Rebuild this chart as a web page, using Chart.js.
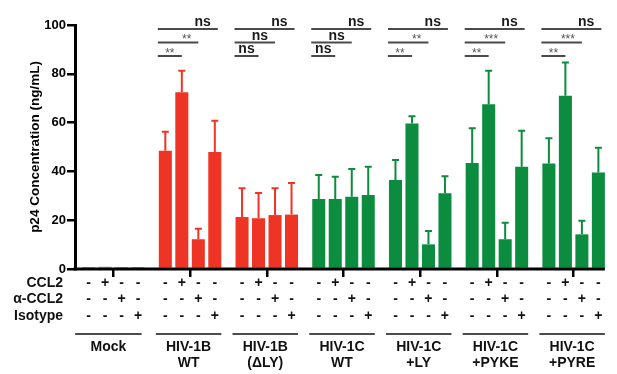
<!DOCTYPE html>
<html><head><meta charset="utf-8">
<script src="https://cdn.jsdelivr.net/npm/chart.js@4"></script>
<style>html,body{margin:0;padding:0;background:#fff}#c{display:block}</style>
</head><body>
<canvas id="c" width="617" height="374"></canvas>
<script>
// ---- data ----
const groupLabels = [['Mock'], ['HIV-1B', 'WT'], ['HIV-1B', '(\u0394LY)'], ['HIV-1C', 'WT'], ['HIV-1C', '+LY'], ['HIV-1C', '+PYKE'], ['HIV-1C', '+PYRE']];
const treatments = ['Untreated', 'CCL2', '\u03b1-CCL2', 'Isotype'];
const untreated = [0.8, 48.5, 21.3, 28.7, 36.5, 43.4, 43.2];
const ccl2 = [0.9, 72.4, 20.8, 28.7, 59.6, 67.5, 71.0];
const antiCcl2 = [0.8, 12.2, 22.1, 29.6, 10.1, 12.2, 14.2];
const isotype = [0.8, 48.0, 22.3, 30.3, 31.0, 41.9, 39.6];
const untreatedErr = [0, 7.8, 11.8, 9.8, 8.2, 14.3, 10.4];
const ccl2Err = [0, 8.9, 10.3, 9.1, 3.0, 13.8, 13.6];
const antiCcl2Err = [0, 4.3, 11.0, 11.4, 5.5, 6.8, 5.6];
const isotypeErr = [0, 12.8, 12.9, 11.6, 7.0, 14.8, 10.1];
const rowCcl2 = ['-', '+', '-', '-'];
const rowAntiCcl2 = ['-', '-', '+', '-'];
const rowIsotype = ['-', '-', '-', '+'];
const sigVsCcl2 = [null, '**', 'ns', 'ns', '**', '**', '**'];
const sigVsAnti = [null, '**', 'ns', 'ns', '**', '***', '***'];
const sigVsIso = [null, 'ns', 'ns', 'ns', 'ns', 'ns', 'ns'];
const yTicks = [0, 20, 40, 60, 80, 100];

// ---- styles ----
const RED = '#EE3424', GREEN = '#0B8C3E', GREY = '#8a8a8a';
const groupColors = [GREY, RED, RED, GREEN, GREEN, GREEN, GREEN];
const FONT = '"Liberation Sans", Arial, sans-serif';

const values = [untreated, ccl2, antiCcl2, isotype];
const errors = [untreatedErr, ccl2Err, antiCcl2Err, isotypeErr];

const annot = {
  id: 'annot',
  afterDatasetsDraw(chart) {
    const ctx = chart.ctx, y = chart.scales.y;
    ctx.save();
    for (let d = 0; d < 4; d++) {
      const meta = chart.getDatasetMeta(d);
      meta.data.forEach((bar, i) => {
        const e = errors[d][i];
        if (!e) return;
        const top = y.getPixelForValue(values[d][i] + e);
        ctx.strokeStyle = groupColors[i];
        ctx.lineWidth = 2;
        ctx.beginPath();
        ctx.moveTo(bar.x, bar.y);
        ctx.lineTo(bar.x, top);
        ctx.moveTo(bar.x - 3.5, top);
        ctx.lineTo(bar.x + 3.5, top);
        ctx.stroke();
      });
    }
    ctx.restore();
  },
  afterDraw(chart) {
    const ctx = chart.ctx, area = chart.chartArea;
    const metas = [0, 1, 2, 3].map(d => chart.getDatasetMeta(d));
    ctx.save();
    // x axis line
    const last = metas[3].data[metas[3].data.length - 1];
    ctx.strokeStyle = '#000';
    ctx.lineWidth = 3;
    ctx.beginPath();
    ctx.moveTo(area.left - 1.5, area.bottom);
    ctx.lineTo(last.x + last.width / 2, area.bottom);
    ctx.stroke();

    // significance brackets
    const levels = [56, 42.5, 29];
    const sigs = [sigVsCcl2, sigVsAnti, sigVsIso];
    for (let i = 0; i < groupLabels.length; i++) {
      const b0 = metas[0].data[i];
      const x0 = b0.x - b0.width / 2 - 1;
      for (let k = 0; k < 3; k++) {
        const lab = sigs[k][i];
        if (!lab) continue;
        const bk = metas[k + 1].data[i];
        const x1 = bk.x + (k === 2 ? 3 : 0);
        const ly = levels[k];
        ctx.strokeStyle = '#4a4a4a';
        ctx.lineWidth = 2;
        ctx.beginPath();
        ctx.moveTo(x0, ly);
        ctx.lineTo(x1, ly);
        ctx.stroke();
        const isNs = lab === 'ns';
        ctx.fillStyle = isNs ? '#1a1a1a' : '#555';
        ctx.font = isNs ? 'bold 14px ' + FONT : '12px ' + FONT;
        ctx.textBaseline = 'alphabetic';
        if (k === 0) {
          ctx.textAlign = 'center';
          ctx.fillText(lab, (x0 + x1) / 2, isNs ? ly - 3 : ly + 0.5);
        } else {
          ctx.textAlign = 'right';
          ctx.fillText(lab, x1 - 7, isNs ? ly - 3 : ly + 0.5);
        }
      }
    }

    // table
    const rows = [rowCcl2, rowAntiCcl2, rowIsotype];
    const rowNames = treatments.slice(1);
    const rowY = [283, 299.5, 316];
    ctx.fillStyle = '#111';
    ctx.textBaseline = 'middle';
    ctx.font = 'bold 14px ' + FONT;
    for (let r = 0; r < 3; r++) {
      ctx.textAlign = 'right';
      ctx.fillText(rowNames[r], 63, rowY[r]);
      ctx.textAlign = 'center';
      for (let i = 0; i < groupLabels.length; i++) {
        for (let d = 0; d < 4; d++) {
          ctx.fillText(rows[r][d], metas[d].data[i].x, rowY[r]);
        }
      }
    }
    // group underlines + labels
    for (let i = 0; i < groupLabels.length; i++) {
      const a = metas[0].data[i], b = metas[3].data[i];
      const l = a.x - a.width / 2 - (i === 0 ? 7 : 3), r = b.x + b.width / 2 - (i === 0 ? 3 : 0);
      ctx.strokeStyle = '#111';
      ctx.lineWidth = 1.5;
      ctx.beginPath();
      ctx.moveTo(l, 334);
      ctx.lineTo(r, 334);
      ctx.stroke();
      ctx.textAlign = 'center';
      groupLabels[i].forEach((t, j) => ctx.fillText(t, (l + r) / 2, 347.5 + j * 15.5));
    }
    ctx.restore();
  }
};

new Chart(document.getElementById('c'), {
  type: 'bar',
  data: {
    labels: groupLabels.map(g => g.join(' ')),
    datasets: values.map((v, d) => ({
      label: treatments[d],
      data: v,
      backgroundColor: groupColors,
      borderWidth: 0,
      categoryPercentage: 0.86,
      barPercentage: 0.79
    }))
  },
  options: {
    responsive: false,
    animation: false,
    layout: { padding: { top: 25, right: 5, left: 0, bottom: 0 } },
    plugins: { legend: { display: false }, tooltip: { enabled: false } },
    scales: {
      x: {
        ticks: { display: false },
        grid: { offset: false, drawOnChartArea: false, tickLength: 8, lineWidth: 2.5, color: '#000' },
        border: { display: false },
        afterFit(s) { s.height = 105; }
      },
      y: {
        min: 0, max: 100,
        afterBuildTicks(s) { s.ticks = yTicks.map(v => ({ value: v })); },
        ticks: { color: '#000', font: { family: FONT, size: 13, weight: 'bold' }, padding: 1 },
        grid: { drawOnChartArea: false, tickLength: 8, lineWidth: 2.5, color: '#000' },
        border: { color: '#000', width: 3 },
        title: { display: true, text: 'p24 Concentration (ng/mL)', color: '#000', font: { family: FONT, size: 13.5, weight: 'bold' }, padding: { top: 27, bottom: 0 } },
        afterFit(s) { s.width = 75; }
      }
    }
  },
  plugins: [annot]
});
</script>
</body></html>
